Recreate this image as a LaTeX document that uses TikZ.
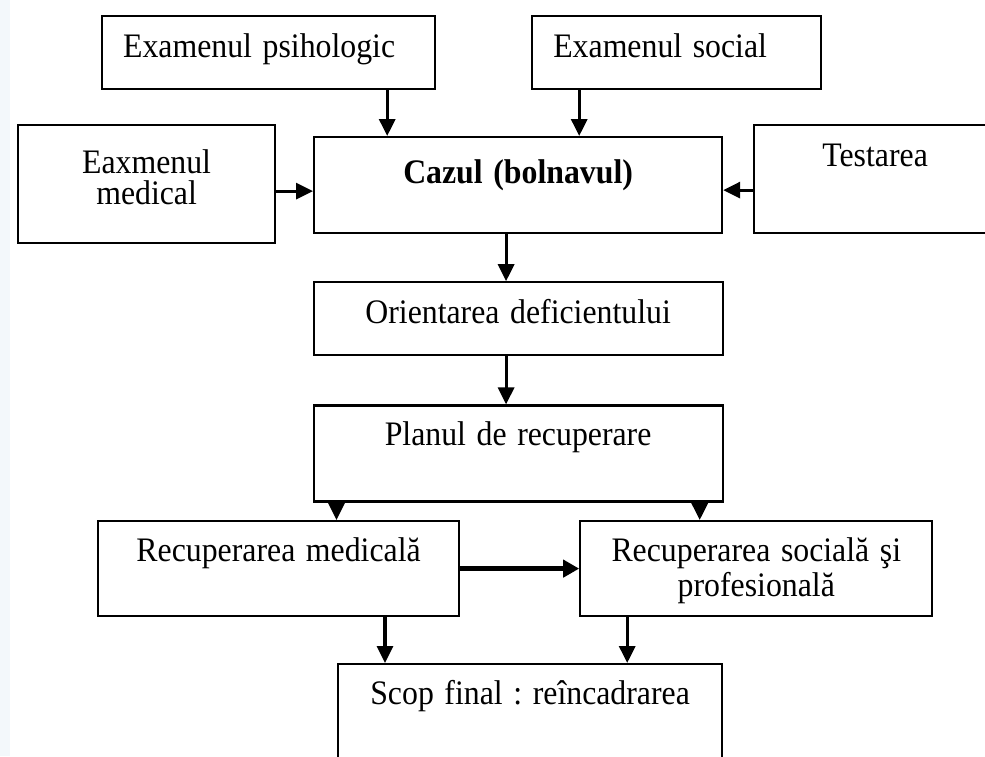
\documentclass[tikz,border=0pt]{standalone}
\usepackage{fontspec}
\setmainfont{Liberation Serif}
\usepackage{graphicx}
\usetikzlibrary{arrows.meta,positioning}
\definecolor{edgeblue}{HTML}{F3F8FB}
\newcommand{\vtxt}[1]{\scalebox{1}[1.08]{#1}}
\frenchspacing

\begin{document}
\begin{tikzpicture}[
    x=0.5pt, y=-0.5pt,
    font=\fontsize{15.9}{17.5}\selectfont,
    box/.style={draw, line width=1.1pt, inner ysep=0pt, inner xsep=5pt, align=center, anchor=north west},
    arr/.style={-{Triangle[length=8.5pt, width=8pt]}, line width=1.6pt},
    arrthick/.style={-{Triangle[length=8pt, width=8.5pt]}, line width=2.3pt}
]
\useasboundingbox (0,0) rectangle (985,756);
\clip (0,0) rectangle (985,756);
\fill[edgeblue] (0,0) rectangle (10,756);

% examinations around the case
\node[box, align=left, inner xsep=10.5pt, text width=145.5pt, text height=20.5pt, text depth=16pt] (psih) at (101,15) {\vtxt{Examenul psihologic}};
\node[box, right=47.5pt of psih, align=left, inner xsep=10.5pt, text width=123.5pt, text height=20.5pt, text depth=16pt] (social) {\vtxt{Examenul social}};
\node[box, text width=118.5pt, text height=24pt, text depth=35pt] (med) at (17,124) {\vtxt{Eaxmenul}\\[-2pt]\vtxt{medical}};
\node[box, text width=194pt, text height=23pt, text depth=25pt] (cazul) at (313,136) {\vtxt{\bfseries Cazul (bolnavul)}};
\node[box, text width=111pt, text height=20.5pt, text depth=33.5pt] (test) at (753,124) {\vtxt{Testarea}};

% main column
\node[box, below=23.5pt of cazul, text width=194.5pt, text height=20.5pt, text depth=16pt] (orient) {\vtxt{Orientarea deficientului}};
\node[box, below=24pt of orient, text width=194.5pt, text height=20pt, text depth=28pt] (plan) {\vtxt{Planul de recuperare}};

% recovery
\node[box, text width=170.5pt, text height=20pt, text depth=27.5pt] (recmed) at (97,520) {\vtxt{Recuperarea medicală}};
\node[box, right=59.5pt of recmed, text width=166pt, text height=20pt, text depth=27.5pt] (recsoc) {\vtxt{Recuperarea socială şi}\\\vtxt{profesională}};
\node[box, text width=182pt, text height=20pt, text depth=45pt] (scop) at (337,663) {\vtxt{Scop final : reîncadrarea}};

% connectors
\coordinate (p1) at ([xshift=-24.5pt]psih.south east);
\coordinate (s1) at ([xshift=24pt]social.south west);
\coordinate (m1) at ([yshift=-3.5pt]med.east);
\coordinate (t1) at ([yshift=-2.5pt]cazul.east);
\coordinate (c1) at ([xshift=-6pt]cazul.south);
\coordinate (pl1) at ([xshift=12pt]plan.south west);
\coordinate (pl2) at ([xshift=-12pt]plan.south east);
\coordinate (sc1) at ([xshift=24pt]scop.north west);
\coordinate (r1) at ([xshift=24pt]recsoc.south west);

\draw[arr] (p1) -- (p1 |- cazul.north);
\draw[arr] (s1) -- (s1 |- cazul.north);
\draw[arr] (m1) -- (m1 -| cazul.west);
\draw[arr] (t1 -| test.west) -- (t1);
\draw[arr] (c1) -- (c1 |- orient.north);
\draw[arr] (c1 |- orient.south) -- (c1 |- plan.north);
\draw[arr] (pl1) -- (pl1 |- recmed.north);
\draw[arr] (pl2) -- (pl2 |- recsoc.north);
\draw[arrthick] (recmed.east) -- (recsoc.west);
\draw[arr] (sc1 |- recmed.south) -- (sc1);
\draw[arr] (r1) -- (r1 |- scop.north);
\end{tikzpicture}
\end{document}
